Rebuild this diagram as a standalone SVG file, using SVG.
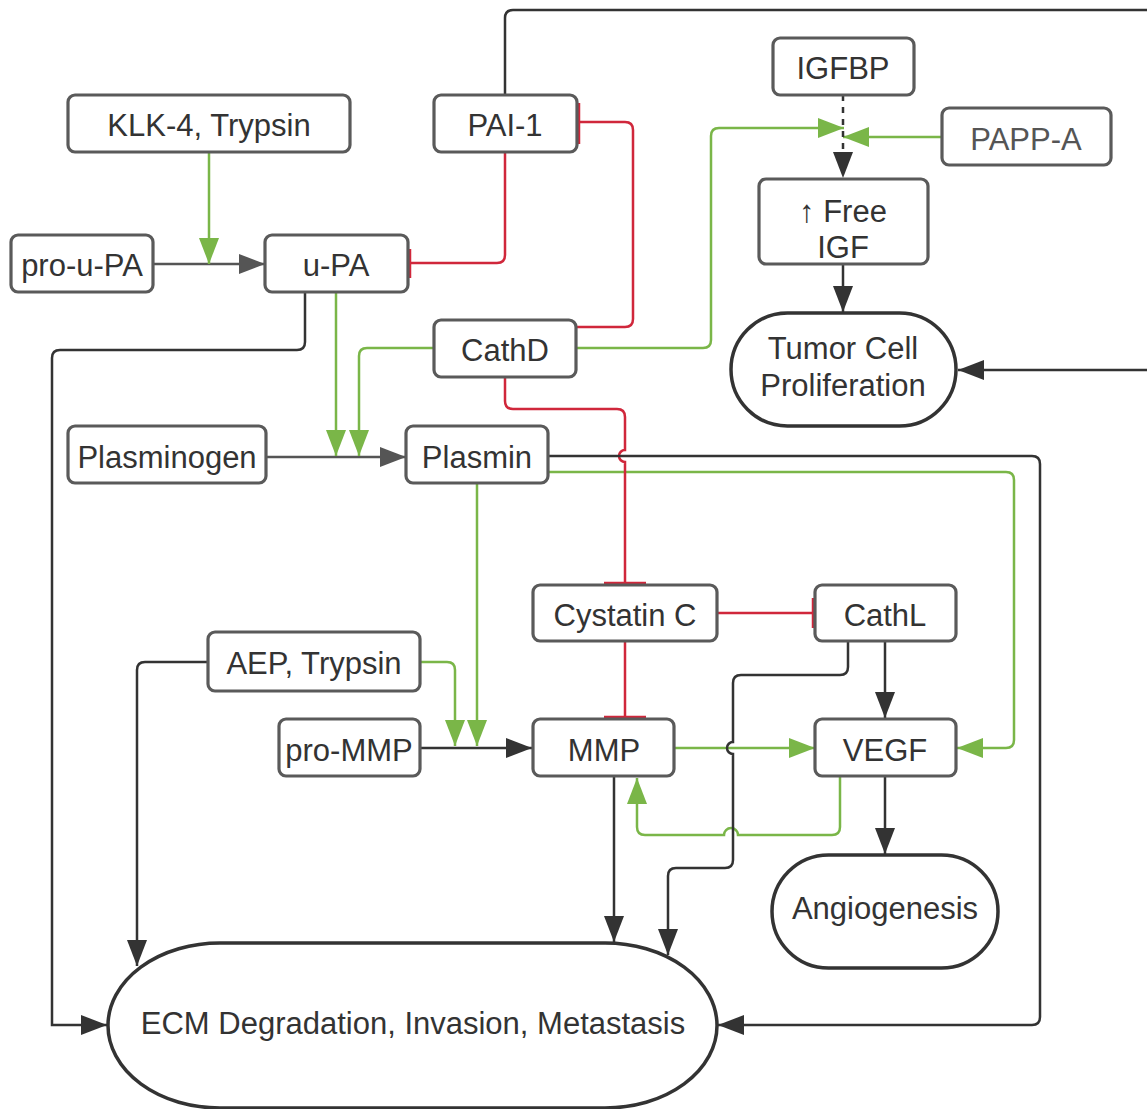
<svg xmlns="http://www.w3.org/2000/svg" width="1147" height="1109" viewBox="0 0 1147 1109">
<style>
.n rect{fill:#fff;stroke:#5a5a5a;stroke-width:3.2}
.t{font-family:"Liberation Sans",Arial,sans-serif;font-size:31px;fill:#333;text-anchor:middle;dominant-baseline:central}
.big{fill:#fff;stroke:#333;stroke-width:3.5}
.c path{fill:none;stroke-width:2.5}
.d{stroke:#333}
.g{stroke:#555}
.gr{stroke:#7ab648}
.r{stroke:#d0273b}
</style>
<defs>
<marker id="ad" markerUnits="userSpaceOnUse" markerWidth="28" markerHeight="22" refX="26" refY="10" orient="auto"><path d="M0,0 L26,10 L0,20 z" fill="#333"/></marker>
<marker id="ag" markerUnits="userSpaceOnUse" markerWidth="28" markerHeight="22" refX="26" refY="10" orient="auto"><path d="M0,0 L26,10 L0,20 z" fill="#555"/></marker>
<marker id="agr" markerUnits="userSpaceOnUse" markerWidth="28" markerHeight="22" refX="26" refY="10" orient="auto"><path d="M0,0 L26,10 L0,20 z" fill="#7ab648"/></marker>
</defs>
<rect width="1147" height="1109" fill="#fff"/>
<g class="c" id="connectors">
<path class="g" d="M153,264 H265" marker-end="url(#ag)"/>
<path class="g" d="M266,457 H406" marker-end="url(#ag)"/>
<path class="gr" d="M209,152 V264" marker-end="url(#agr)"/>
<path class="gr" d="M336,292 V456" marker-end="url(#agr)"/>
<path class="gr" d="M434,348 H367 Q359,348 359,356 V456" marker-end="url(#agr)"/>
<path class="gr" d="M576,348 H703 Q711,348 711,340 V136 Q711,128 719,128 H844" marker-end="url(#agr)"/>
<path class="gr" d="M942,137 H843" marker-end="url(#agr)"/>
<path class="gr" d="M548,472 H1006 Q1014,472 1014,480 V740 Q1014,748 1006,748 H957" marker-end="url(#agr)"/>
<path class="gr" d="M477,483 V746" marker-end="url(#agr)"/>
<path class="gr" d="M420,662 H447 Q455,662 455,670 V746" marker-end="url(#agr)"/>
<path class="gr" d="M674,748 H815" marker-end="url(#agr)"/>
<path class="gr" d="M840,776 V827 Q840,835 832,835 H738 A7,7 0 0 0 724,835 H645 Q637,835 637,827 V778" marker-end="url(#agr)"/>
<path class="r" d="M505,152 V255 Q505,263 497,263 H410"/>
<path class="r" d="M410,249 V278"/>
<path class="r" d="M576,327 H625 Q633,327 633,319 V130 Q633,122 625,122 H579"/>
<path class="r" d="M579,103 V144"/>
<path class="r" d="M505,377 V401 Q505,409 513,409 H617 Q625,409 625,417 V450 A6,6 0 0 0 625,462 V583"/>
<path class="r" d="M604,583 H646"/>
<path class="r" d="M717,613 H813"/>
<path class="r" d="M813,598 V628"/>
<path class="r" d="M625,641 V717"/>
<path class="r" d="M604,717 H646"/>
<path class="d" d="M505,95 V18 Q505,10 513,10 H1152 V370 H958" marker-end="url(#ad)"/>
<path class="d" d="M843,95 V178" stroke-dasharray="6 6" marker-end="url(#ad)"/>
<path class="d" d="M843,264 V312" marker-end="url(#ad)"/>
<path class="d" d="M305,292 V342 Q305,350 297,350 H60 Q52,350 52,358 V1025 H107" marker-end="url(#ad)"/>
<path class="d" d="M548,456 H1032 Q1040,456 1040,464 V1017 Q1040,1025 1032,1025 H718" marker-end="url(#ad)"/>
<path class="d" d="M208,662 H145 Q137,662 137,670 V966" marker-end="url(#ad)"/>
<path class="d" d="M420,748 H532" marker-end="url(#ad)"/>
<path class="d" d="M614,776 V942" marker-end="url(#ad)"/>
<path class="d" d="M885,641 V718" marker-end="url(#ad)"/>
<path class="d" d="M848,641 V667 Q848,675 840,675 H741 Q733,675 733,683 V742 A6,6 0 0 0 733,754 V860 Q733,868 725,868 H676 Q668,868 668,876 V955" marker-end="url(#ad)"/>
<path class="d" d="M885,776 V854" marker-end="url(#ad)"/>
</g>
<g class="n" id="klk"><rect x="68" y="95" width="282" height="57" rx="7"/><text class="t" x="209" y="125">KLK-4, Trypsin</text></g>
<g class="n" id="pai1"><rect x="434" y="95" width="143" height="57" rx="7"/><text class="t" x="505" y="125">PAI-1</text></g>
<g class="n" id="igfbp"><rect x="773" y="38" width="141" height="57" rx="7"/><text class="t" x="843" y="68">IGFBP</text></g>
<g class="n" id="pappa"><rect x="942" y="108" width="169" height="57" rx="7"/><text class="t" x="1026" y="139" style="fill:#555">PAPP-A</text></g>
<g class="n" id="freeigf"><rect x="759" y="179" width="169" height="85" rx="7"/><text class="t" x="843" y="211">↑ Free</text><text class="t" x="843" y="247">IGF</text></g>
<g id="tumor"><rect class="big" x="731" y="313" width="225" height="113" rx="56.5"/><text class="t" x="843" y="348">Tumor Cell</text><text class="t" x="843" y="385">Proliferation</text></g>
<g class="n" id="prouPA"><rect x="11" y="235" width="142" height="57" rx="7"/><text class="t" x="82" y="265">pro-u-PA</text></g>
<g class="n" id="uPA"><rect x="265" y="235" width="143" height="57" rx="7"/><text class="t" x="336" y="265">u-PA</text></g>
<g class="n" id="cathD"><rect x="434" y="320" width="142" height="57" rx="7"/><text class="t" x="505" y="350">CathD</text></g>
<g class="n" id="plasminogen"><rect x="68" y="426" width="198" height="57" rx="7"/><text class="t" x="167" y="457">Plasminogen</text></g>
<g class="n" id="plasmin"><rect x="406" y="426" width="142" height="57" rx="7"/><text class="t" x="477" y="457">Plasmin</text></g>
<g class="n" id="cystatin"><rect x="533" y="585" width="184" height="56" rx="7"/><text class="t" x="625" y="615">Cystatin C</text></g>
<g class="n" id="cathL"><rect x="815" y="585" width="141" height="56" rx="7"/><text class="t" x="885" y="615">CathL</text></g>
<g class="n" id="aep"><rect x="208" y="632" width="212" height="59" rx="7"/><text class="t" x="314" y="663">AEP, Trypsin</text></g>
<g class="n" id="proMMP"><rect x="279" y="719" width="141" height="57" rx="7"/><text class="t" x="349" y="750">pro-MMP</text></g>
<g class="n" id="mmp"><rect x="533" y="719" width="141" height="57" rx="7"/><text class="t" x="604" y="750">MMP</text></g>
<g class="n" id="vegf"><rect x="815" y="719" width="141" height="57" rx="7"/><text class="t" x="885" y="750">VEGF</text></g>
<g id="angio"><rect class="big" x="772" y="855" width="226" height="113" rx="56.5"/><text class="t" x="885" y="908">Angiogenesis</text></g>
<g id="ecm"><rect class="big" x="108" y="943" width="609" height="165" rx="112" ry="82.5"/><text class="t" x="413" y="1023">ECM Degradation, Invasion, Metastasis</text></g>
</svg>
